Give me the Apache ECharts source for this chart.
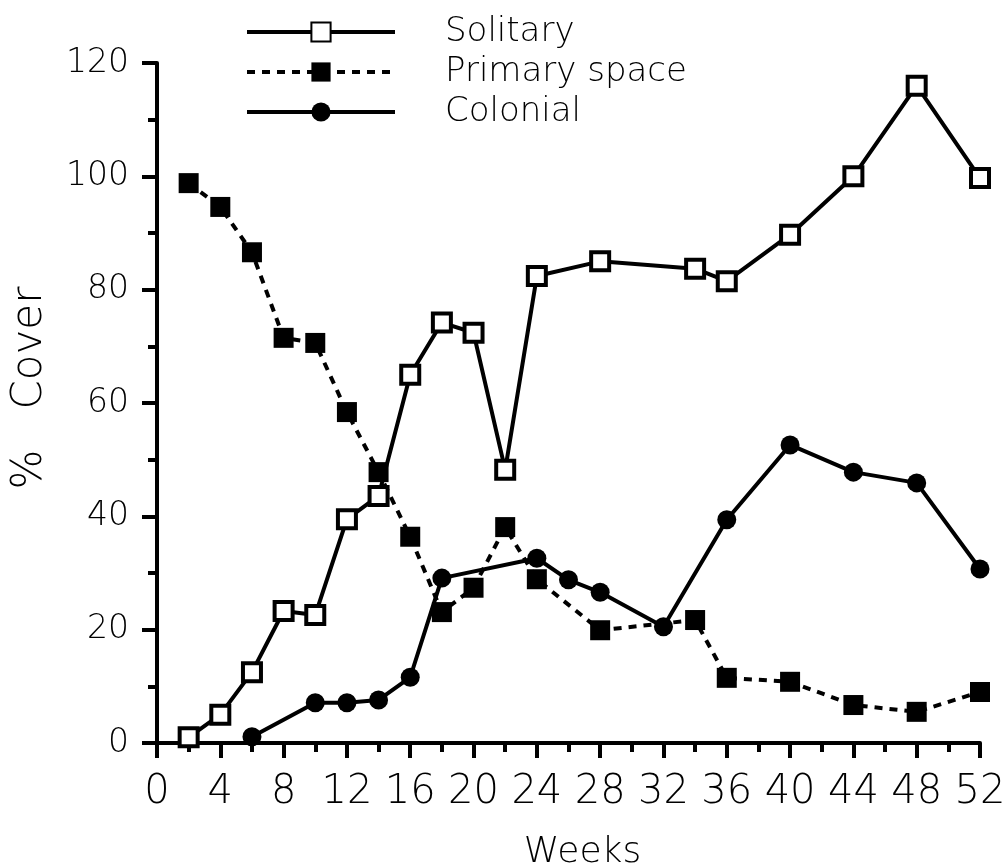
<!DOCTYPE html>
<html>
<head>
<meta charset="utf-8">
<script src="https://cdn.jsdelivr.net/npm/echarts@6/dist/echarts.min.js"></script>
<style>
  html, body { margin: 0; padding: 0; background: #fff; }
  #chart { width: 1002px; height: 865px; }
</style>
</head>
<body>
<div id="chart"></div>
<script>
const solitaryWeeks = [2, 4, 6, 8, 10, 12, 14, 16, 18, 20, 22, 24, 28, 34, 36, 40, 44, 48, 52];
const solitaryCover = [1, 5, 12.5, 23.3, 22.6, 39.5, 43.6, 65, 74.2, 72.4, 48.2, 82.4, 85, 83.7, 81.5, 89.7, 100, 116, 99.7];

const primaryWeeks = [2, 4, 6, 8, 10, 12, 14, 16, 18, 20, 22, 24, 28, 34, 36, 40, 44, 48, 52];
const primaryCover = [98.8, 94.6, 86.6, 71.5, 70.6, 58.4, 47.8, 36.4, 23.1, 27.4, 38.1, 28.9, 19.9, 21.7, 11.5, 10.8, 6.7, 5.5, 9];

const colonialWeeks = [6, 10, 12, 14, 16, 18, 24, 26, 28, 32, 36, 40, 44, 48, 52];
const colonialCover = [1.1, 7.1, 7.1, 7.6, 11.6, 29.1, 32.6, 28.8, 26.6, 20.5, 39.4, 52.6, 47.8, 45.9, 30.7];

const FONT = "DejaVu Sans";

function pairs(xs, ys) {
  return xs.map((x, i) => [x, ys[i]]);
}

const chart = echarts.init(document.getElementById("chart"));

const axisCommon = {
  type: "value",
  axisLine: { show: true, lineStyle: { color: "#000", width: 4 } },
  axisTick: { show: true, length: 15, lineStyle: { color: "#000", width: 4 } },
  minorTick: { show: true, splitNumber: 2, length: 9, lineStyle: { color: "#000", width: 4 } },
  splitLine: { show: false },
  nameTextStyle: { color: "#000", fontFamily: FONT, fontWeight: 200 },
};

chart.setOption({
  backgroundColor: "#fff",
  animation: false,
  textStyle: { fontFamily: FONT },
  grid: { left: 157, right: 22, top: 63, bottom: 122, outerBoundsMode: "none" },
  legend: {
    orient: "vertical",
    left: 240,
    top: 8,
    itemWidth: 148,
    itemHeight: 24,
    itemGap: 2,
    lineStyle: { width: 4 },
    textStyle: { color: "#000", fontFamily: FONT, fontWeight: 200, fontSize: 34, lineHeight: 38, padding: [0, 0, 0, 45] },
    data: ["Solitary", "Primary space", "Colonial"],
  },
  xAxis: {
    ...axisCommon,
    min: 0,
    max: 52,
    interval: 4,
    name: "Weeks",
    nameLocation: "middle",
    nameGap: 92,
    nameTextStyle: { ...axisCommon.nameTextStyle, fontSize: 36, padding: [0, 0, 0, 28] },
    axisLabel: { color: "#000", fontFamily: FONT, fontWeight: 200, fontSize: 40, margin: 30 },
  },
  yAxis: {
    ...axisCommon,
    min: 0,
    max: 120,
    interval: 20,
    name: "%   Cover",
    nameLocation: "middle",
    nameRotate: 90,
    nameGap: 106,
    nameTextStyle: { ...axisCommon.nameTextStyle, fontSize: 42, padding: [0, 0, 0, 30] },
    axisLabel: { color: "#000", fontFamily: FONT, fontWeight: 200, fontSize: 33, margin: 28 },
  },
  series: [
    {
      name: "Solitary",
      type: "line",
      data: pairs(solitaryWeeks, solitaryCover),
      symbol: "rect",
      symbolSize: 18,
      lineStyle: { color: "#000", width: 4 },
      itemStyle: { color: "#fff", borderColor: "#000", borderWidth: 4 },
      z: 3,
    },
    {
      name: "Primary space",
      type: "line",
      data: pairs(primaryWeeks, primaryCover),
      symbol: "rect",
      symbolSize: 20,
      lineStyle: { color: "#000", width: 4, type: [8, 7] },
      itemStyle: { color: "#000" },
      z: 2,
    },
    {
      name: "Colonial",
      type: "line",
      data: pairs(colonialWeeks, colonialCover),
      symbol: "circle",
      symbolSize: 19,
      lineStyle: { color: "#000", width: 4 },
      itemStyle: { color: "#000" },
      z: 2,
    },
  ],
});
</script>
</body>
</html>
